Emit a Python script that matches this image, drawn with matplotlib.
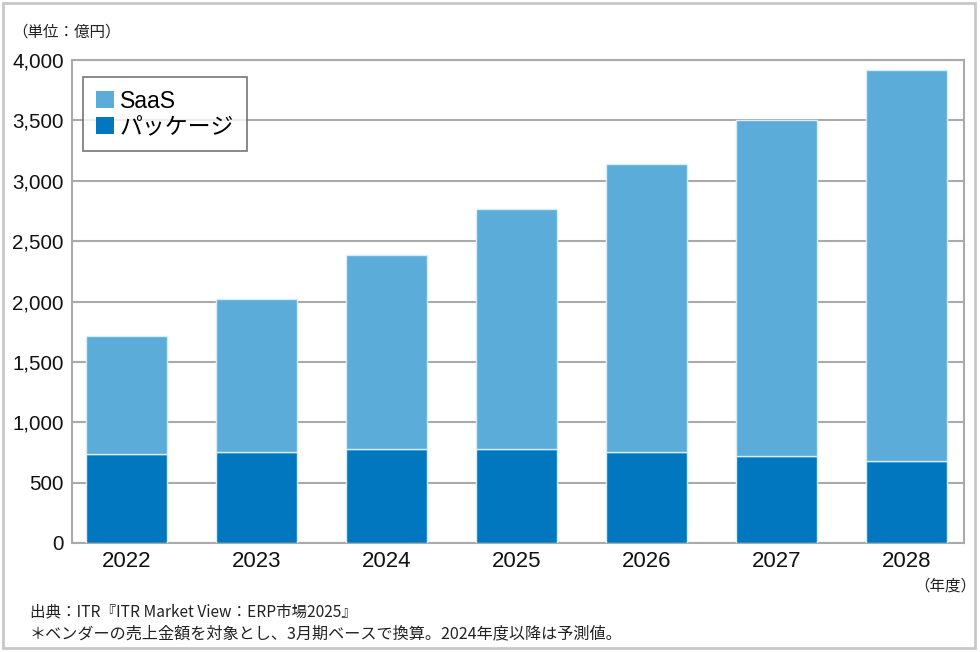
import matplotlib
matplotlib.use("Agg")
import matplotlib.pyplot as plt
from matplotlib.patches import Rectangle

plt.rcParams['font.family'] = ['Liberation Sans', 'Noto Sans CJK JP', 'DejaVu Sans']

years = ["2022", "2023", "2024", "2025", "2026", "2027", "2028"]
totals = [1712, 2018, 2382, 2763, 3135, 3505, 3915]
package = [737, 750, 775, 780, 752, 720, 680]
saas = [t - p for t, p in zip(totals, package)]
yticks = [0, 500, 1000, 1500, 2000, 2500, 3000, 3500, 4000]

c_saas = "#5BACD8"
c_pkg = "#0077BE"
edge = "#d4eef9"

fig = plt.figure(figsize=(9.8, 6.52), dpi=100)
ax = fig.add_axes([72/980, 1-543/652, (964-72)/980, (543-60)/652])

x = list(range(len(years)))
ax.bar(x, package, width=0.62, color=c_pkg, edgecolor=edge, linewidth=1, label="パッケージ", zorder=3)
ax.bar(x, saas, bottom=package, width=0.62, color=c_saas, edgecolor=edge, linewidth=1, label="SaaS", zorder=3)

ax.set_xlim(-0.42, 6.44)
ax.set_ylim(0, 4000)
ax.set_yticks(yticks)
ax.set_yticklabels([f"{v:,}" for v in yticks], fontsize=14.8)
ax.set_xticks(x)
ax.set_xticklabels(years, fontsize=16)
ax.tick_params(axis='both', length=0, colors='#111111')
ax.tick_params(axis='y', pad=6)
ax.tick_params(axis='x', pad=6)
ax.yaxis.grid(True, color='#aaaaaa', linewidth=1.5, zorder=0)
ax.set_axisbelow(True)
for s in ax.spines.values():
    s.set_color('#aaaaaa')
    s.set_linewidth(1.5)

handles, labels = ax.get_legend_handles_labels()
leg = ax.legend(handles[::-1], labels[::-1], loc='upper left',
                bbox_to_anchor=(11/892, 1-17/483), fontsize=16.5,
                frameon=True, fancybox=False, edgecolor='#555555',
                handlelength=0.8, handleheight=0.8, handletextpad=0.25,
                borderpad=0.55, labelspacing=0.12, borderaxespad=0)
leg.get_frame().set_linewidth(1.2)
for p in leg.get_patches():
    p.set_edgecolor('none')

fig.text(12/980, 1-32/652, "（単位：億円）", fontsize=11.2, va='center', ha='left',
         family=['Noto Sans CJK JP', 'DejaVu Sans'], color='#222222')
fig.text(976/980, 1-586/652, "（年度）", fontsize=11.2, va='center', ha='right',
         family=['Noto Sans CJK JP', 'DejaVu Sans'], color='#222222')
fig.text(30/980, 1-612/652, "出典：ITR『ITR Market View：ERP市場2025』", fontsize=11.2,
         va='center', ha='left', family=['Noto Sans CJK JP', 'DejaVu Sans'], color='#222222')
fig.text(30/980, 1-634/652, "＊ベンダーの売上金額を対象とし、3月期ベースで換算。2024年度以降は予測値。",
         fontsize=11.6, va='center', ha='left', family=['Noto Sans CJK JP', 'DejaVu Sans'], color='#222222')

fig.patches.append(Rectangle((3/980, 4/652), 972/980, 645/652, transform=fig.transFigure,
                             fill=False, edgecolor='#c8c8c8', linewidth=2))

fig.savefig("out.png", dpi=100)
